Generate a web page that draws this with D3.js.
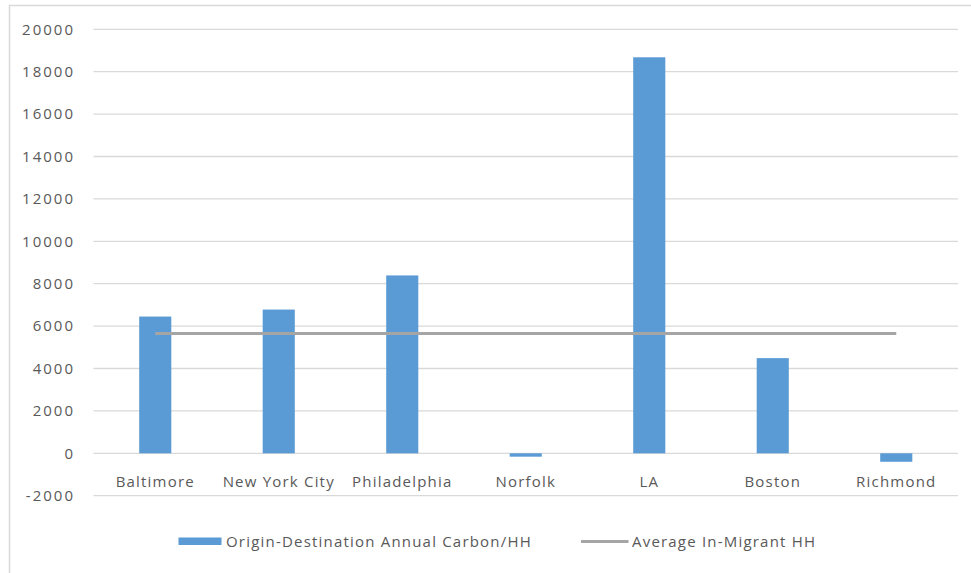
<!DOCTYPE html>
<html>
<head>
<meta charset="utf-8">
<script src="https://cdn.jsdelivr.net/npm/d3@7"></script>
<style>
  html, body { margin: 0; padding: 0; background: #fff; }
  svg text { font-family: "Open Sans", "Liberation Sans", sans-serif; fill: #595959; }
</style>
</head>
<body>
<svg id="chart" width="971" height="573"></svg>
<script>
// Annual carbon per household by origin city, with the in-migrant average
const cities = ["Baltimore", "New York City", "Philadelphia", "Norfolk", "LA", "Boston", "Richmond"];
const carbonPerHH = [6450, 6780, 8390, -160, 18680, 4490, -400];
const avgInMigrant = [5650, 5650, 5650, 5650, 5650, 5650, 5650];
const yTicks = [-2000, 0, 2000, 4000, 6000, 8000, 10000, 12000, 14000, 16000, 18000, 20000];
const seriesNames = ["Origin-Destination Annual Carbon/HH", "Average In-Migrant HH"];

const svg = d3.select("#chart");
const W = 971, H = 573;
const plot = { left: 93.5, right: 958, top: 29.3, bottom: 495.7 };
const fontSize = 15, spacing = 1.2;

// outer chart frame
svg.append("rect")
  .attr("x", 9.5).attr("y", 5.5)
  .attr("width", W + 10).attr("height", H + 10)
  .attr("fill", "none").attr("stroke", "#d9d9d9").attr("stroke-width", 1.5);

const x = d3.scaleBand().domain(cities)
  .range([plot.left, plot.right])
  .paddingInner(0.74).paddingOuter(0.37);

const y = d3.scaleLinear().domain([-2000, 20000]).range([plot.bottom, plot.top]);

// horizontal gridlines
svg.append("g")
  .selectAll("line").data(yTicks).join("line")
  .attr("x1", plot.left).attr("x2", plot.right)
  .attr("y1", d => y(d)).attr("y2", d => y(d))
  .attr("stroke", "#d9d9d9").attr("stroke-width", 1.3);

// y axis labels (plain hyphen for negatives)
const yAxis = d3.axisLeft(y).tickValues(yTicks).tickSize(0).tickPadding(0).tickFormat(d => String(d));
const gy = svg.append("g").attr("transform", `translate(${75},0)`).call(yAxis);
gy.select(".domain").remove();
gy.selectAll("text").attr("font-size", fontSize).attr("fill", "#595959")
  .style("font-family", "'Open Sans', sans-serif").style("letter-spacing", "2px");

// bars
svg.append("g")
  .selectAll("rect").data(cities).join("rect")
  .attr("x", d => x(d))
  .attr("width", x.bandwidth())
  .attr("y", (d, i) => y(Math.max(0, carbonPerHH[i])))
  .attr("height", (d, i) => Math.abs(y(carbonPerHH[i]) - y(0)))
  .attr("fill", "#5b9bd5");

// average line through category centres
const line = d3.line()
  .x((d, i) => x(cities[i]) + x.bandwidth() / 2)
  .y(d => y(d));
svg.append("path")
  .datum(avgInMigrant)
  .attr("d", line)
  .attr("fill", "none").attr("stroke", "#a5a5a5").attr("stroke-width", 3.2);

// category labels
const xAxis = d3.axisBottom(x).tickSize(0).tickPadding(0);
const gx = svg.append("g").attr("transform", `translate(0,${482})`).call(xAxis);
gx.select(".domain").remove();
gx.selectAll("text").attr("font-size", fontSize).attr("dy", "0.35em").attr("y", 0)
  .attr("fill", "#595959").style("font-family", "'Open Sans', sans-serif")
  .style("letter-spacing", spacing + "px");

// legend
const lg = svg.append("g").style("letter-spacing", spacing + "px");
lg.append("rect").attr("x", 178.5).attr("y", 537.5).attr("width", 43).attr("height", 7.5).attr("fill", "#5b9bd5");
lg.append("text").attr("x", 226).attr("y", 541.5).attr("dy", "0.35em").attr("font-size", fontSize).text(seriesNames[0]);
lg.append("line").attr("x1", 581).attr("x2", 628.5).attr("y1", 541.5).attr("y2", 541.5)
  .attr("stroke", "#a5a5a5").attr("stroke-width", 3.2);
lg.append("text").attr("x", 632).attr("y", 541.5).attr("dy", "0.35em").attr("font-size", fontSize).text(seriesNames[1]);
</script>
</body>
</html>
